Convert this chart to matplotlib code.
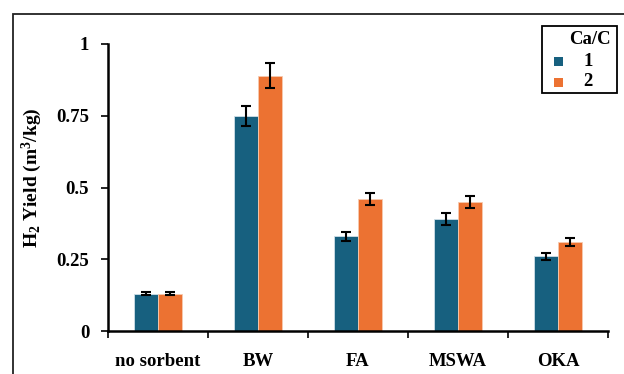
import matplotlib
matplotlib.use("Agg")
import matplotlib.pyplot as plt
import numpy as np
from matplotlib.patches import Rectangle

categories = ["no sorbent", "BW", "FA", "MSWA", "OKA"]
series_names = ["1", "2"]
yield_1 = [0.13, 0.75, 0.33, 0.39, 0.26]
yield_2 = [0.13, 0.89, 0.46, 0.45, 0.31]
err_1 = [0.006, 0.035, 0.015, 0.020, 0.012]
err_2 = [0.006, 0.045, 0.022, 0.022, 0.013]
yticks = [0, 0.25, 0.5, 0.75, 1]
ytick_labels = ["0", "0.25", "0.5", "0.75", "1"]

blue = "#17607f"
orange = "#ec7232"
colors = [blue, orange]
fam = ["Liberation Serif", "DejaVu Serif"]
plt.rcParams["font.family"] = fam
plt.rcParams["font.weight"] = "bold"
plt.rcParams["mathtext.fontset"] = "custom"
plt.rcParams["mathtext.rm"] = "Liberation Serif:bold"
plt.rcParams["mathtext.it"] = "Liberation Serif:bold"
plt.rcParams["mathtext.bf"] = "Liberation Serif:bold"
plt.rcParams["mathtext.default"] = "rm"
FS = 13.5

W, H = 624, 374
fig = plt.figure(figsize=(W / 100, H / 100), dpi=100)


def fx(px):
    return px / W


def fy(py):
    return 1 - py / H


# outer frame of the figure panel
fig.patches.append(Rectangle((fx(13), -0.05), 1.2, fy(14) + 0.05,
                             transform=fig.transFigure, fill=False,
                             edgecolor="#222222", linewidth=1.3))

ax = fig.add_axes([fx(108), fy(331), 500 / W, 287 / H])
x = np.arange(len(categories))
w = 0.24
ax.bar(x - w / 2, yield_1, w, color=blue, edgecolor="#cfe0e8", linewidth=0.6,
       yerr=err_1, capsize=3.5, error_kw=dict(elinewidth=1.5, capthick=1.5, ecolor="black"))
ax.bar(x + w / 2, yield_2, w, color=orange, edgecolor="#f7c9ae", linewidth=0.6,
       yerr=err_2, capsize=3.5, error_kw=dict(elinewidth=1.5, capthick=1.5, ecolor="black"))

ax.set_xlim(-0.5, len(categories) - 0.5)
ax.set_ylim(0, 1)
ax.spines["top"].set_visible(False)
ax.spines["right"].set_visible(False)
ax.spines["left"].set_linewidth(1.8)
ax.spines["bottom"].set_linewidth(1.8)

ax.set_yticks(yticks)
ax.set_yticklabels(ytick_labels, fontsize=FS, fontweight="bold")
ax.tick_params(axis="y", direction="out", length=5, width=1.2, pad=8.5)

ax.set_xticks(np.arange(-0.5, len(categories), 1.0))
ax.set_xticklabels([])
ax.tick_params(axis="x", direction="out", length=5, width=1.2)
for xi, c in zip(x, categories):
    ax.text(xi, -0.105, c, ha="center", va="center", fontsize=FS,
            fontweight="bold", transform=ax.get_xaxis_transform())

ax.set_ylabel("H$_2$ Yield (m$^3$/kg)", fontsize=14, fontweight="bold")
ax.yaxis.set_label_coords((44 - 108) / 500, 0.535)

# legend box drawn in figure pixels
fig.patches.append(Rectangle((fx(542), fy(93)), fx(617) - fx(542), fy(26) - fy(93),
                             transform=fig.transFigure, facecolor="white",
                             edgecolor="black", linewidth=1.3, zorder=5))
fig.text(fx(590), fy(39), "Ca/C", ha="center", va="center", fontsize=FS,
         fontweight="bold", zorder=6)
for i, (name, col) in enumerate(zip(series_names, colors)):
    yc = 61 + 21 * i
    fig.patches.append(Rectangle((fx(554), fy(yc + 4.5)), 9 / W, 9 / H,
                                 transform=fig.transFigure, facecolor=col,
                                 edgecolor="none", zorder=6))
    fig.text(fx(588), fy(yc), name, ha="center", va="center", fontsize=FS,
             fontweight="bold", zorder=6)

fig.savefig("out.png", dpi=100)
